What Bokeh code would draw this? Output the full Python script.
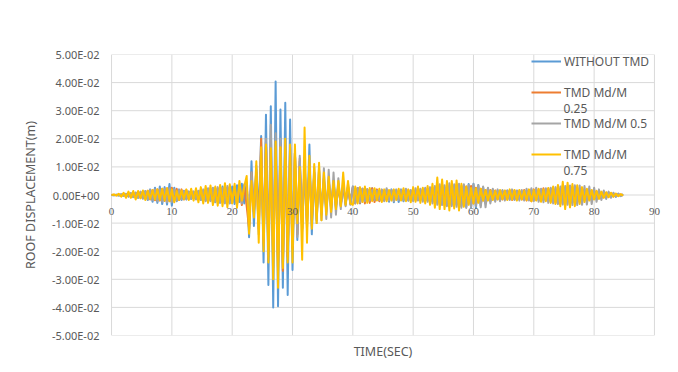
from bokeh.plotting import figure
from bokeh.models import (Range1d, FixedTicker, CustomJSTickFormatter, Legend, LegendItem,
                          Label, LabelSet, Title, ColumnDataSource)
from bokeh.embed import file_html
from bokeh.resources import INLINE

# ---------------- data (roof displacement, in mm) ----------------
DT = 0.4  # sampling step of the read-off series, seconds

WITHOUT_TMD_MM = [
    0.0, -0.1, 0.1, -0.2, 0.2, -0.3, 0.4, -0.5, 0.6, -0.7,
    0.8, -1.0, 1.0, -1.2, 1.4, -1.8, 2.0, -2.4, 2.6, -2.8,
    3.0, -3.2, 2.8, -3.4, 3.9, -3.8, 2.6, -2.2, 2.0, -1.8,
    1.5, -1.6, 1.2, -1.4, 1.0, -1.2, 1.4, -1.8, 1.6, -2.0,
    2.2, -2.0, 2.4, -2.6, 2.2, -2.8, 3.0, -2.5, 2.6, -3.0,
    3.0, -3.2, 3.5, -2.5, 4.0, -3.0, 4.5, -15.0, 12.0, -11.0,
    10.4, -8.0, 21.0, -24.0, 28.6, -32.0, 31.6, -40.0, 40.4, -39.6,
    30.4, -33.0, 32.8, -35.6, 26.9, -26.7, 15.0, -16.0, 12.0, -12.0,
    10.0, -10.0, 18.0, -14.0, 8.0, -9.0, 9.0, -7.0, 6.0, -6.0,
    5.5, -5.0, 5.0, -4.5, 4.0, -4.0, 3.5, -3.5, 3.0, -3.0,
    3.0, -2.8, 2.5, -3.0, 2.2, -2.5, 2.0, -2.2, 2.4, -2.0,
    1.8, -2.0, 1.6, -1.8, 2.0, -2.4, 2.0, -2.6, 1.8, -2.5,
    2.0, -2.2, 1.8, -2.0, 1.5, -1.8, 1.6, -1.5, 2.0, -1.8,
    2.2, -2.0, 2.5, -2.2, 2.0, -2.5, 2.4, -2.8, 2.6, -3.0,
    3.0, -3.2, 2.8, -3.5, 3.2, -4.0, 3.5, -4.2, 3.9, -4.4,
    4.0, -4.6, 3.6, -3.8, 2.8, -3.0, 2.4, -2.2, 2.0, -1.8,
    1.6, -1.8, 1.5, -1.4, 1.6, -1.5, 1.4, -1.6, 1.5, -1.2,
    1.2, -1.4, 1.6, -1.5, 1.8, -1.6, 1.5, -1.8, 2.0, -1.6,
    1.8, -2.0, 2.2, -1.8, 2.0, -2.4, 2.2, -2.0, 2.5, -2.2,
    2.4, -2.6, 2.2, -2.4, 2.0, -2.2, 1.8, -2.0, 1.6, -1.5,
    1.4, -1.2, 1.2, -1.0, 0.9, -0.8, 0.8, -0.6, 0.6, -0.5,
    0.4, -0.3, 0.2,
]

TMD_025_MM = [
    0.0, 0.1, -0.1, 0.2, -0.3, 0.3, -0.4, 0.5, -0.6, 0.7,
    -0.8, 0.9, -1.0, 1.2, -1.3, 1.5, -1.6, 1.8, -1.9, 2.0,
    -2.0, 2.2, -2.1, 2.4, -2.2, 2.6, -2.0, 2.2, -1.8, 2.0,
    -1.6, 1.8, -1.4, 1.6, -1.2, 1.4, -1.5, 1.8, -1.6, 2.0,
    -2.0, 2.2, -2.4, 2.5, -2.2, 2.8, -2.6, 2.4, -2.8, 3.0,
    -2.8, 3.0, -3.2, 2.8, -3.6, 3.4, -4.0, -12.0, 8.0, -6.0,
    8.0, -12.0, 20.0, -17.0, 19.0, -20.0, 18.0, -22.0, 17.0, -24.0,
    18.0, -27.0, 16.0, -22.0, 14.0, -19.0, 15.0, -14.0, 13.0, -12.0,
    12.0, -10.0, 10.0, -9.0, 8.0, -7.0, 6.5, -6.0, 5.5, -5.0,
    5.0, -4.5, 4.0, -4.0, 3.5, -3.5, 3.2, -3.0, 3.0, -3.2,
    2.8, -3.0, 2.5, -2.8, 2.2, -3.0, 2.0, -2.8, 2.4, -2.5,
    2.0, -2.2, 1.8, -2.0, 1.6, -1.8, 1.5, -1.6, 1.4, -1.5,
    -1.5, 1.6, -1.4, 1.8, -1.6, 1.5, -1.8, 2.0, -1.6, 1.8,
    -2.0, 2.2, -2.4, 2.6, -3.0, 3.5, -3.2, 3.8, -3.6, 3.4,
    -3.8, 3.6, -3.4, 3.8, -3.6, 3.2, -3.4, 3.0, -2.8, 3.2,
    -3.0, 2.6, -2.4, 2.2, -2.0, 1.8, -1.6, 1.8, -1.5, 1.6,
    -1.5, 1.4, -1.6, 1.5, -1.4, 1.6, -1.8, 1.6, -1.5, 1.4,
    -1.6, 1.8, -2.0, 1.8, -2.2, 2.0, -1.8, 2.0, -2.2, 2.4,
    -2.0, 2.2, -2.4, 2.6, -2.8, 3.0, -3.2, 3.4, -3.6, 3.2,
    -3.4, 3.0, -2.8, 2.6, -2.4, 2.2, -2.0, 1.8, -1.6, 1.5,
    -1.4, 1.2, -1.0, 1.0, -0.8, 0.8, -0.6, 0.6, -0.5, 0.4,
    -0.3, 0.2, -0.1,
]

TMD_05_MM = [
    0.0, -0.1, 0.1, -0.2, 0.3, -0.3, 0.4, -0.6, 0.7, -0.8,
    0.9, -1.0, 1.2, -1.3, 1.4, -1.6, 1.8, -1.9, 2.0, -2.2,
    2.0, -2.4, 2.2, -2.6, 2.4, -2.5, 2.0, -2.0, 1.8, -1.6,
    1.4, -1.5, 1.2, -1.4, 1.3, -1.6, 1.5, -1.8, 2.0, -2.2,
    2.4, -2.2, 2.6, -2.4, 2.8, -2.6, 2.5, -3.0, 3.2, -2.8,
    -2.5, 3.0, -3.2, 3.5, -3.0, 3.8, 4.0, -10.0, 8.0, -6.0,
    9.0, -14.0, 16.0, -18.0, 20.0, -22.0, 25.0, -26.0, 22.0, -27.0,
    20.0, -24.0, 19.0, -20.0, 17.0, -18.0, 15.0, -15.0, 14.0, -13.0,
    12.0, -12.0, 11.0, -11.0, 10.0, -10.0, 10.0, -9.0, 9.5, -8.5,
    9.0, -8.0, 8.0, -7.0, 6.0, -5.0, 5.0, -4.0, 4.0, -3.5,
    3.0, -3.0, 2.5, -2.5, 2.2, -2.2, 2.0, -2.0, 1.8, -1.8,
    1.6, -1.8, 2.0, -2.2, 2.4, -2.0, 1.8, -2.2, 2.0, -1.8,
    1.8, -2.0, 2.2, -2.0, 1.8, -2.2, 2.4, -2.0, 2.2, -2.4,
    2.6, -2.4, 2.8, -3.0, 3.2, -3.5, 3.8, -3.6, 3.5, -4.0,
    4.2, -4.0, 3.8, -4.2, 4.0, -4.5, 3.8, -4.6, 3.6, -4.2,
    3.8, -4.0, 3.5, -4.4, 3.0, -4.4, 2.6, -3.0, 2.2, -2.4,
    2.0, -2.2, 1.8, -2.0, 1.6, -1.8, 2.0, -1.8, 1.6, -2.0,
    1.8, -2.0, 2.2, -2.0, 2.4, -2.2, 2.6, -2.4, 2.2, -2.6,
    2.4, -2.8, 2.6, -3.0, 2.8, -3.2, 3.0, -3.4, 3.2, -3.5,
    3.4, -3.6, 3.5, -3.6, 3.4, -3.5, 3.2, -3.4, 3.0, -3.2,
    2.6, -2.4, 2.0, -1.8, 1.6, -1.4, 1.2, -1.0, 0.8, -0.7,
    0.5, -0.4, 0.2,
]

TMD_075_MM = [
    0.0, 0.2, -0.2, 0.4, -0.6, 0.8, -1.0, 1.2, -1.0, 1.4,
    -1.6, 1.4, -1.2, 1.6, -1.8, 1.5, -1.4, 1.8, -1.6, 2.0,
    -1.8, 2.2, -2.0, 2.4, -2.2, 2.0, -2.6, 1.5, -1.8, 1.6,
    -1.5, 2.0, -1.8, 2.2, -2.0, 2.4, -2.6, 2.8, -3.0, 3.2,
    -2.8, 3.4, -3.6, 3.0, -3.8, 3.6, -4.0, 4.2, -4.3, 3.8,
    -3.0, 4.0, -4.5, 5.0, -2.0, 3.0, 6.8, -13.8, 5.0, -8.0,
    12.0, -17.0, 17.0, -20.0, 18.0, -24.0, 16.6, -30.0, 19.0, -33.0,
    17.0, -26.0, 20.0, -24.0, 18.0, -24.0, 18.0, -10.0, 10.0, -23.0,
    24.0, -17.0, 14.0, -12.0, 11.0, -10.0, 11.5, -9.0, 8.0, -7.0,
    6.5, -6.0, 5.0, -5.0, 5.0, -4.0, 8.0, -3.5, 5.0, -3.0,
    -3.5, 3.0, -3.0, 2.8, -2.5, 3.0, -2.8, 2.5, -2.2, 2.4,
    -2.0, 2.2, -2.5, 2.0, -2.2, 1.8, -2.0, 2.0, -1.8, 2.2,
    -2.0, 2.4, -2.2, 2.0, -2.6, 2.8, -2.4, 3.0, -2.8, 2.6,
    -3.0, 3.2, -3.5, 4.0, -4.5, 6.2, -5.0, 5.5, -5.0, 5.0,
    -5.5, 5.0, -4.8, 5.2, -5.5, 4.0, -4.2, 3.0, -3.5, 2.5,
    -3.0, 2.4, -2.8, 2.2, -2.0, 1.8, -2.0, 1.6, -1.8, 1.5,
    -1.6, 1.8, -1.5, 1.6, -1.8, 2.0, -1.6, 1.8, -2.0, 1.8,
    -1.6, 1.5, -1.8, 2.0, -2.2, 1.8, -2.0, 2.2, -2.4, 2.0,
    -2.2, 2.5, -2.8, 3.0, -3.2, 3.6, -4.0, 4.7, -5.0, 4.4,
    -4.4, 3.9, -4.0, 3.5, -3.2, 2.8, -2.5, 2.2, -2.0, 1.8,
    -1.6, 1.5, -1.4, 1.2, -1.0, 1.0, -0.8, 0.8, -0.6, 0.5,
    -0.4, 0.3, -0.2,
]

SERIES_NAMES = ["WITHOUT TMD", "TMD Md/M 0.25", "TMD Md/M 0.5", "TMD Md/M 0.75"]
SERIES_MM = [WITHOUT_TMD_MM, TMD_025_MM, TMD_05_MM, TMD_075_MM]
COLORS = ["#5B9BD5", "#ED7D31", "#A5A5A5", "#FFC000"]

X_TICKS = [0, 10, 20, 30, 40, 50, 60, 70, 80, 90]
Y_TICKS = [-0.05, -0.04, -0.03, -0.02, -0.01, 0.0, 0.01, 0.02, 0.03, 0.04, 0.05]

# ---------------- figure ----------------
FONT = "Noto Sans"
TXT = "#595959"
GRID = "#D9D9D9"
XPAD = 1.5  # small room beyond 0 and 90 so the end tick labels are not cut

p = figure(width=670, height=364, output_backend="svg", toolbar_location=None,
           x_range=Range1d(X_TICKS[0] - XPAD, X_TICKS[-1] + XPAD),
           y_range=Range1d(Y_TICKS[0], Y_TICKS[-1]),
           min_border_left=102, min_border_right=7, min_border_top=54, min_border_bottom=27)
p.outline_line_color = None
p.background_fill_color = "white"
p.border_fill_color = "white"
p.xgrid.visible = False
p.ygrid.visible = False

# plot-area grid (limited to the 0..90 s by -0.05..0.05 m box)
nx, ny = len(X_TICKS), len(Y_TICKS)
p.segment(x0=X_TICKS, y0=[Y_TICKS[0]] * nx, x1=X_TICKS, y1=[Y_TICKS[-1]] * nx,
          line_color=GRID, line_width=1)
p.segment(x0=[X_TICKS[0]] * ny, y0=Y_TICKS, x1=[X_TICKS[-1]] * ny, y1=Y_TICKS,
          line_color=GRID, line_width=1)

# x axis crosses at zero: its tick labels are drawn just under the zero line
p.xaxis.visible = False
xlab_src = ColumnDataSource(dict(x=X_TICKS, y=[0.0] * nx, text=[str(v) for v in X_TICKS]))
p.add_layout(LabelSet(x="x", y="y", text="text", source=xlab_src, y_offset=-13,
                      text_align="center", text_baseline="top", text_font=FONT,
                      text_font_size="11px", text_color=TXT, level="glyph"))

renderers = []
for name, vals, col in zip(SERIES_NAMES, SERIES_MM, COLORS):
    t = [round(i * DT, 2) for i in range(len(vals))]
    y = [v / 1000.0 for v in vals]
    r = p.line(t, y, line_color=col, line_width=2, line_join="round")
    renderers.append(r)

ya = p.yaxis[0]
ya.ticker = FixedTicker(ticks=Y_TICKS)
ya.major_tick_out = 0
ya.major_tick_in = 0
ya.minor_tick_out = 0
ya.minor_tick_in = 0
ya.axis_line_color = None
ya.major_label_standoff = 3
ya.major_label_text_font = FONT
ya.major_label_text_font_size = "11px"
ya.major_label_text_color = TXT
ya.formatter = CustomJSTickFormatter(code="""
    const v = tick;
    if (Math.abs(v) < 1e-12) return "0.00E+00";
    let e = Math.floor(Math.log10(Math.abs(v)) + 1e-9);
    let m = v / Math.pow(10, e);
    if (Math.abs(m) >= 9.995) { m = m / 10; e = e + 1; }
    const s = e < 0 ? "-" : "+";
    const ae = Math.abs(e);
    return m.toFixed(2) + "E" + s + (ae < 10 ? "0" : "") + ae;
""")
ya.axis_label = "ROOF DISPLACEMENT(m)"
ya.axis_label_standoff = 10
ya.axis_label_text_font = FONT
ya.axis_label_text_font_size = "12.5px"
ya.axis_label_text_font_style = "normal"
ya.axis_label_text_color = TXT

p.add_layout(Title(text="TIME(SEC)", align="center", text_font=FONT, text_font_size="12.5px",
                   text_font_style="normal", text_color=TXT), "below")

# legend (first line of each label; the wrapped second lines are added as labels)
legend_labels = ["WITHOUT TMD", "TMD Md/M", "TMD Md/M 0.5", "TMD Md/M"]
items = [LegendItem(label=lab, renderers=[r]) for lab, r in zip(legend_labels, renderers)]
leg = Legend(items=items, location=(429, 171), orientation="vertical",
             padding=0, margin=0, spacing=11, glyph_width=30, glyph_height=20,
             label_height=20, label_standoff=3, background_fill_alpha=0,
             border_line_color=None, label_text_font=FONT, label_text_font_size="12px",
             label_text_color=TXT)
p.add_layout(leg, "center")

for txt, ys in [("0.25", 227), ("0.75", 165)]:
    p.add_layout(Label(x=461, y=ys, x_units="screen", y_units="screen", text=txt,
                       text_font=FONT, text_font_size="12px", text_color=TXT,
                       text_baseline="middle", text_align="left"))

open("out.html", "w").write(file_html(p, INLINE))
